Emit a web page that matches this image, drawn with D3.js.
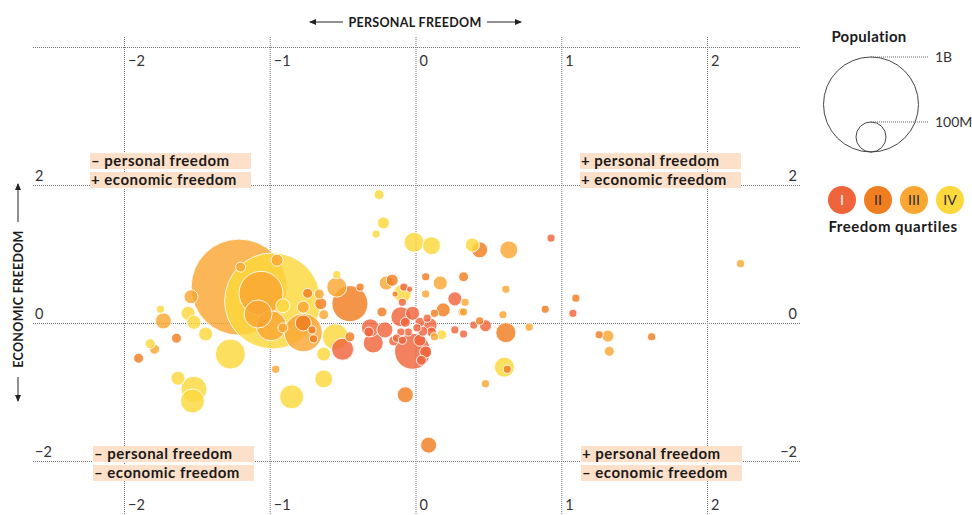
<!DOCTYPE html>
<html>
<head>
<meta charset="utf-8">
<script src="https://cdn.jsdelivr.net/npm/d3@7"></script>
<style>
  body { margin: 0; background: #fff; font-family: Lato, "Open Sans", sans-serif; }
</style>
</head>
<body>
<div id="chart"></div>
<script>

// chart size
const width = 972;
const height = 515;

// ticks
const xTicks = [-2, -1, 0, 1, 2];
const yTicks = [-2, 0, 2];
const yFrame = 4; // dotted line on top, no label

// countries by freedom quartile: [personal freedom, economic freedom, population in millions]
const quartile1 = [
  [0.93, 1.23, 10], [1.08, 0.14, 10], [0.40, -0.03, 10], [0.48, -0.04, 22],
  [0.27, -0.10, 10], [0.33, -0.16, 10], [0.27, 0.35, 30], [-0.08, 0.52, 10],
  [-0.04, 0.49, 6], [-0.09, 0.30, 10], [-0.10, 0.09, 61], [-0.07, 0.01, 15],
  [-0.31, -0.07, 49], [-0.32, -0.13, 15], [-0.50, -0.38, 74], [-0.29, -0.29, 61],
  [-0.02, -0.41, 197], [0.03, 0.01, 15], [0.08, 0.07, 10], [0.11, -0.13, 15],
  [0.05, -0.12, 15], [0.01, -0.07, 10], [-0.05, -0.13, 10], [-0.10, -0.13, 10],
  [-0.13, -0.22, 10], [-0.09, -0.25, 10], [-0.15, -0.26, 15], [0.03, -0.25, 22],
  [0.07, -0.42, 22], [0.04, -0.54, 15], [-0.02, 0.14, 30], [-0.21, -0.10, 39],
  [0.10, -0.03, 30]
];
const quartile2 = [
  [0.44, 1.06, 39], [1.10, 0.36, 10], [0.89, 0.20, 10], [0.44, 0.03, 10],
  [0.62, -0.14, 61], [0.63, -0.67, 10], [1.26, -0.17, 10], [1.62, -0.20, 10],
  [0.07, 0.67, 10], [0.33, 0.67, 15], [0.19, 0.19, 30], [0.13, 0.14, 10],
  [-0.23, 0.16, 15], [-0.16, 0.62, 22], [-0.14, 0.42, 6], [-0.38, 0.52, 10],
  [-0.45, 0.28, 197], [-0.45, -0.20, 15], [-0.07, -1.04, 39], [0.09, -1.77, 39],
  [-0.77, 0.00, 39], [-0.71, -0.10, 10], [-0.70, -0.23, 10], [-0.74, 0.43, 15],
  [-0.65, 0.28, 22], [-1.64, -0.22, 15], [-1.90, -0.51, 15], [0.32, 0.16, 10]
];
const quartile3 = [
  [0.64, 1.06, 49], [2.23, 0.86, 10], [0.62, 0.49, 10], [0.60, 0.12, 10],
  [0.78, -0.06, 10], [0.48, -0.88, 10], [1.32, -0.19, 22], [1.33, -0.41, 15],
  [0.17, 0.58, 30], [0.07, 0.42, 10], [0.33, 0.16, 10], [-0.20, 0.58, 30],
  [-0.54, 0.52, 61], [0.13, -0.20, 10], [-1.21, 0.52, 1400], [-1.20, 0.81, 15],
  [-0.95, 0.91, 22], [-1.06, 0.43, 294], [-1.08, 0.13, 119], [-0.99, -0.04, 137],
  [-0.91, -0.07, 15], [-0.77, -0.14, 219], [-0.77, 0.23, 22], [-0.66, 0.42, 15],
  [-0.63, 0.12, 15], [-1.73, 0.03, 39], [-1.54, 0.38, 30], [-1.79, -0.38, 15],
  [-0.96, -0.67, 10], [0.34, 0.30, 10]
];
const quartile4 = [
  [-0.25, 1.86, 15], [-0.22, 1.45, 22], [-0.27, 1.29, 10], [-0.01, 1.17, 61],
  [0.11, 1.12, 49], [0.39, 1.13, 30], [0.61, -0.64, 61], [-0.09, 0.43, 49],
  [-0.54, 0.70, 10], [0.18, -0.17, 15], [-0.55, -0.20, 103], [-0.98, 0.32, 1400],
  [-0.91, 0.25, 30], [-1.75, 0.20, 10], [-1.56, 0.14, 30], [-1.52, 0.01, 30],
  [-1.44, -0.16, 30], [-1.82, -0.30, 15], [-1.27, -0.45, 137], [-1.63, -0.80, 30],
  [-1.52, -0.96, 103], [-1.53, -1.13, 87], [-0.85, -1.07, 87], [-0.63, -0.81, 49],
  [-0.63, -0.45, 30]
];

// legend
const quartileNames = ["I", "II", "III", "IV"];
const quartileColors = ["#f0643c", "#f07d20", "#f9a632", "#fdd83d"];
const legendPops = [1000, 100];
const legendLabels = ["1B", "100M"];

// quadrant notes
const quadrantText = [
  ["– personal freedom", "+ economic freedom"],
  ["+ personal freedom", "+ economic freedom"],
  ["– personal freedom", "– economic freedom"],
  ["+ personal freedom", "– economic freedom"]
];

const svg = d3.select("#chart")
  .append("svg")
  .attr("width", width)
  .attr("height", height);

// scales
const xScale = d3.scaleLinear().domain([-2, 2]).range([124, 707]);
const yScale = d3.scaleLinear().domain([-2, 2]).range([461, 185]);
const rScale = d3.scaleSqrt().domain([0, 1400]).range([0, 48]);
const color = d3.scaleOrdinal().domain([1, 2, 3, 4]).range(quartileColors);

const fmt = d => d < 0 ? "\u2212" + Math.abs(d) : String(d);

/*
  Grid
*/

// vertical dotted lines
svg.append("g")
  .attr("class", "grid")
  .attr("transform", "translate(0,37)")
  .call(d3.axisBottom(xScale).tickValues(xTicks).tickSize(height - 37).tickFormat(""))
  .call(g => g.select(".domain").remove());

// horizontal dotted lines
svg.append("g")
  .attr("class", "grid")
  .attr("transform", "translate(33,0)")
  .call(d3.axisRight(yScale).tickValues(yTicks.concat([yFrame])).tickSize(800 - 33).tickFormat(""))
  .call(g => g.select(".domain").remove());

svg.selectAll(".grid line")
  .attr("stroke", "#777")
  .attr("stroke-width", 1)
  .attr("stroke-dasharray", "1,1");

// x labels, top and bottom
[66, 510].forEach(base => {
  svg.append("g").selectAll("text")
    .data(xTicks)
    .join("text")
    .attr("x", d => xScale(d) + 4)
    .attr("y", base)
    .attr("font-size", 14.5)
    .attr("fill", "#333")
    .text(fmt);
});

// y labels, left and right
svg.append("g").selectAll("text")
  .data(yTicks)
  .join("text")
  .attr("x", 35)
  .attr("y", d => yScale(d) - 4)
  .attr("font-size", 14.5)
  .attr("fill", "#333")
  .text(fmt);

svg.append("g").selectAll("text")
  .data(yTicks)
  .join("text")
  .attr("x", 797)
  .attr("y", d => yScale(d) - 4)
  .attr("text-anchor", "end")
  .attr("font-size", 14.5)
  .attr("fill", "#333")
  .text(fmt);

/*
  Quadrant notes
*/

const quadPos = [[90, 153], [580, 153], [93, 446], [581, 446]];

quadrantText.forEach((lines, i) => {
  const g = svg.append("g")
    .attr("transform", `translate(${quadPos[i][0]},${quadPos[i][1]})`);
  lines.forEach((t, j) => {
    g.append("rect")
      .attr("x", 0)
      .attr("y", j * 19)
      .attr("width", 161)
      .attr("height", 16)
      .attr("fill", "#fde0c9");
    g.append("text")
      .attr("x", 1)
      .attr("y", j * 19 + 13)
      .attr("font-size", 15)
      .attr("font-weight", 700)
      .attr("letter-spacing", 0.5)
      .attr("fill", "#1a1a1a")
      .text(t);
  });
});

/*
  Bubbles
*/

const countries = [];
[quartile1, quartile2, quartile3, quartile4].forEach((arr, qi) => {
  arr.forEach(d => countries.push({ pf: d[0], ef: d[1], pop: d[2], q: qi + 1 }));
});
countries.sort((a, b) => b.pop - a.pop);

svg.append("g").selectAll("circle")
  .data(countries)
  .join("circle")
  .attr("cx", d => xScale(d.pf))
  .attr("cy", d => yScale(d.ef))
  .attr("r", d => rScale(d.pop))
  .attr("fill", d => color(d.q))
  .attr("fill-opacity", 0.82)
  .attr("stroke", "#fff")
  .attr("stroke-opacity", 0.9)
  .attr("stroke-width", 1);

/*
  Axis titles with arrows
*/

function arrowHead(x, y, dir) {
  // dir: "l", "r", "u", "d"
  let pts;
  if (dir === "l") pts = [[x, y], [x + 7, y - 3], [x + 7, y + 3]];
  if (dir === "r") pts = [[x, y], [x - 7, y - 3], [x - 7, y + 3]];
  if (dir === "u") pts = [[x, y], [x - 3, y + 7], [x + 3, y + 7]];
  if (dir === "d") pts = [[x, y], [x - 3, y - 7], [x + 3, y - 7]];
  svg.append("path").attr("d", d3.line()(pts) + "Z").attr("fill", "#222");
}

svg.append("text")
  .attr("x", 415)
  .attr("y", 27)
  .attr("text-anchor", "middle")
  .attr("font-size", 12.5)
  .attr("font-weight", 700)
  .attr("letter-spacing", 0.3)
  .attr("fill", "#1a1a1a")
  .text("PERSONAL FREEDOM");

svg.append("line").attr("x1", 310).attr("x2", 343).attr("y1", 22).attr("y2", 22).attr("stroke", "#222");
arrowHead(309, 22, "l");
svg.append("line").attr("x1", 487).attr("x2", 521).attr("y1", 22).attr("y2", 22).attr("stroke", "#222");
arrowHead(522, 22, "r");

svg.append("text")
  .attr("transform", "translate(22.5,299) rotate(-90)")
  .attr("text-anchor", "middle")
  .attr("font-size", 12.5)
  .attr("font-weight", 700)
  .attr("letter-spacing", 0.3)
  .attr("fill", "#1a1a1a")
  .text("ECONOMIC FREEDOM");

svg.append("line").attr("x1", 18).attr("x2", 18).attr("y1", 184).attr("y2", 222).attr("stroke", "#222");
arrowHead(18, 183, "u");
svg.append("line").attr("x1", 18).attr("x2", 18).attr("y1", 377).attr("y2", 401).attr("stroke", "#222");
arrowHead(18, 402, "d");

/*
  Legend
*/

const legendR = d3.scaleSqrt().domain([0, 1000]).range([0, 47.5]);
const legX = 871;
const legBottom = 152;

svg.append("text")
  .attr("x", 869)
  .attr("y", 42)
  .attr("text-anchor", "middle")
  .attr("font-size", 15)
  .attr("font-weight", 700)
  .attr("letter-spacing", 0.3)
  .attr("fill", "#1a1a1a")
  .text("Population");

legendPops.forEach((p, i) => {
  const rr = legendR(p);
  svg.append("circle")
    .attr("cx", legX)
    .attr("cy", legBottom - rr)
    .attr("r", rr)
    .attr("fill", "none")
    .attr("stroke", "#444")
    .attr("stroke-width", 1);
  svg.append("line")
    .attr("x1", legX)
    .attr("x2", 929)
    .attr("y1", legBottom - 2 * rr)
    .attr("y2", legBottom - 2 * rr)
    .attr("stroke", "#666")
    .attr("stroke-dasharray", "1,1");
  svg.append("text")
    .attr("x", 935)
    .attr("y", legBottom - 2 * rr)
    .attr("dy", "0.35em")
    .attr("font-size", 14)
    .attr("fill", "#333")
    .text(legendLabels[i]);
});

const qx = d3.scalePoint().domain(quartileNames).range([842, 950]);

svg.append("g").selectAll("circle")
  .data(quartileNames)
  .join("circle")
  .attr("cx", d => qx(d))
  .attr("cy", 200)
  .attr("r", 14)
  .attr("fill", (d, i) => quartileColors[i]);

svg.append("g").selectAll("text")
  .data(quartileNames)
  .join("text")
  .attr("x", d => qx(d))
  .attr("y", 200)
  .attr("dy", "0.36em")
  .attr("text-anchor", "middle")
  .attr("font-size", 14)
  .attr("fill", (d, i) => i === 0 ? "#fff" : "#2a2a2a")
  .text(d => d);

svg.append("text")
  .attr("x", 893)
  .attr("y", 232)
  .attr("text-anchor", "middle")
  .attr("font-size", 15)
  .attr("font-weight", 700)
  .attr("letter-spacing", 0.5)
  .attr("fill", "#1a1a1a")
  .text("Freedom quartiles");

</script>
</body>
</html>
